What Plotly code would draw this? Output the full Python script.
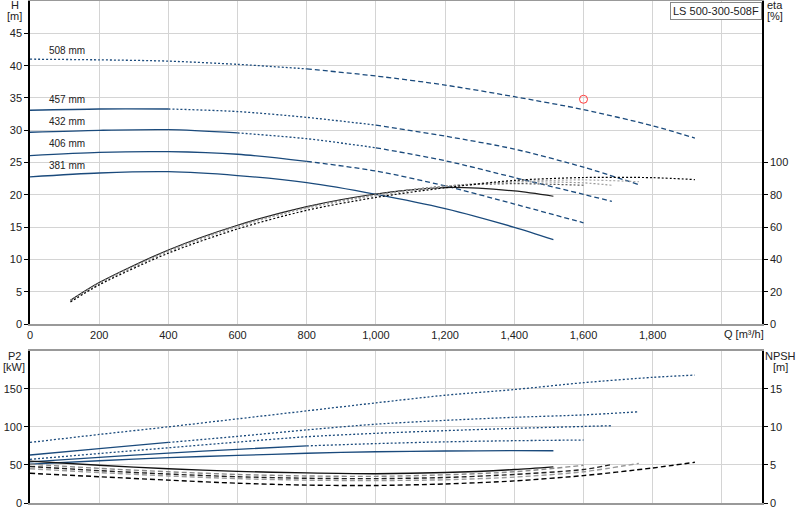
import plotly.graph_objects as go

# --- Data ---
diameters = ["381 mm", "406 mm", "432 mm", "457 mm", "508 mm"]

# Head curves H [m] vs Q [m3/h]
q_head = {
    "381 mm": [0, 200, 400, 600, 800, 1000, 1200, 1400, 1513],
    "406 mm": [0, 200, 400, 600, 800, 1000, 1200, 1400, 1600],
    "432 mm": [0, 200, 400, 600, 800, 1000, 1200, 1400, 1600, 1682],
    "457 mm": [0, 200, 400, 600, 800, 1000, 1200, 1400, 1600, 1760],
    "508 mm": [0, 200, 400, 600, 800, 1000, 1200, 1400, 1600, 1800, 1922],
}
h_head = {
    "381 mm": [22.8, 23.4, 23.6, 23.0, 21.9, 20.1, 17.9, 15.0, 13.1],
    "406 mm": [26.1, 26.6, 26.7, 26.3, 25.2, 23.7, 21.4, 18.6, 15.7],
    "432 mm": [29.7, 30.0, 30.1, 29.6, 28.7, 27.3, 25.3, 22.7, 20.1, 19.0],
    "457 mm": [33.1, 33.3, 33.3, 32.9, 32.0, 30.8, 29.1, 27.1, 24.3, 21.6],
    "508 mm": [41.0, 40.9, 40.7, 40.2, 39.5, 38.4, 37.0, 35.2, 33.2, 30.7, 28.8],
}

# Efficiency eta [%]
q_eta = {
    "381 mm": [117, 200, 400, 600, 800, 1000, 1200, 1400, 1513],
    "406 mm": [117, 200, 400, 600, 800, 1000, 1200, 1400, 1600],
    "432 mm": [117, 200, 400, 600, 800, 1000, 1200, 1400, 1600, 1682],
    "457 mm": [117, 200, 400, 600, 800, 1000, 1200, 1400, 1600, 1760],
    "508 mm": [117, 200, 400, 600, 800, 1000, 1200, 1400, 1600, 1800, 1922],
}
eta = {
    "381 mm": [14.8, 25.8, 46.0, 61.3, 72.8, 80.6, 84.6, 82.5, 79.2],
    "406 mm": [14.6, 25.5, 45.6, 61.0, 72.5, 80.3, 85.5, 87.0, 86.0],
    "432 mm": [14.4, 25.3, 45.4, 60.7, 72.2, 80.0, 85.5, 88.0, 87.5, 86.0],
    "457 mm": [14.2, 25.0, 45.0, 60.3, 71.8, 79.6, 85.2, 88.3, 89.3, 88.2],
    "508 mm": [13.8, 24.4, 44.0, 59.0, 70.5, 78.5, 84.5, 89.0, 90.8, 90.7, 89.5],
}

# Shaft power P2 [kW]
p2 = {
    "381 mm": [51.0, 55.5, 59.5, 62.5, 65.3, 67.3, 68.3, 68.7, 68.6],
    "406 mm": [54.0, 60.0, 65.5, 70.5, 75.0, 78.0, 80.3, 81.8, 82.7],
    "432 mm": [57.3, 65.0, 72.5, 80.0, 87.0, 91.5, 95.0, 98.0, 100.5, 101.5],
    "457 mm": [63.0, 71.5, 79.5, 87.5, 96.0, 103.5, 108.5, 112.5, 115.7, 119.8],
    "508 mm": [79.5, 90.0, 100.0, 110.5, 121.0, 131.5, 141.5, 149.0, 158.0, 165.0, 168.0],
}

# NPSH [m]
npsh = {
    "381 mm": [5.5, 4.95, 4.5, 4.15, 3.95, 3.85, 4.0, 4.4, 4.75],
    "406 mm": [5.1, 4.55, 4.1, 3.75, 3.55, 3.5, 3.7, 4.1, 4.95],
    "432 mm": [4.8, 4.25, 3.8, 3.45, 3.25, 3.2, 3.35, 3.75, 4.4, 5.05],
    "457 mm": [4.5, 4.0, 3.55, 3.2, 3.0, 2.95, 3.05, 3.4, 4.1, 5.2],
    "508 mm": [3.9, 3.45, 3.0, 2.6, 2.35, 2.3, 2.5, 2.9, 3.6, 4.6, 5.35],
}

duty_q = [1600]
duty_h = [34.8]
pump_name = "LS 500-300-508F"

# --- Styling ---
BLUE = "#1a4a7c"
FONT = "Liberation Sans"
DOT = "2px,2px"
DASH = "5px,3px"

# (end Q, dash) segments for the head curves
head_style = {
    "381 mm": [(9999, "solid")],
    "406 mm": [(800, "solid"), (9999, DASH)],
    "432 mm": [(600, "solid"), (1000, DOT), (9999, DASH)],
    "457 mm": [(400, "solid"), (1000, DOT), (9999, DASH)],
    "508 mm": [(800, DOT), (9999, DASH)],
}
p2_style = {
    "381 mm": [(9999, "solid")],
    "406 mm": [(800, "solid"), (9999, DOT)],
    "432 mm": [(9999, DOT)],
    "457 mm": [(400, "solid"), (9999, DOT)],
    "508 mm": [(9999, DOT)],
}
eta_style = {
    "381 mm": ("#1e1e1e", "solid"),
    "406 mm": ("#555555", DOT),
    "432 mm": ("#9a9a9a", DOT),
    "457 mm": ("#a8a8a8", DOT),
    "508 mm": ("#000000", DOT),
}
npsh_style = {
    "381 mm": ("#111111", "solid"),
    "406 mm": ("#8a8a8a", DASH),
    "432 mm": ("#222222", DASH),
    "457 mm": ("#9a9a9a", DASH),
    "508 mm": ("#000000", DASH),
}


def add_segmented(fig, qs, vs, segments, color, xa, ya):
    start = -1
    for end, dash in segments:
        sx = [q for q in qs if start <= q <= end]
        sy = [v for q, v in zip(qs, vs) if start <= q <= end]
        if len(sx) > 1:
            fig.add_trace(go.Scatter(x=sx, y=sy, mode="lines", xaxis=xa, yaxis=ya,
                                     line=dict(color=color, width=1.3, dash=dash,
                                               shape="spline", smoothing=0.8),
                                     hoverinfo="skip"))
        start = end


fig = go.Figure()

for d in diameters:
    add_segmented(fig, q_head[d], h_head[d], head_style[d], BLUE, "x", "y")
    c, dash = eta_style[d]
    fig.add_trace(go.Scatter(x=q_eta[d], y=eta[d], mode="lines", xaxis="x", yaxis="y2",
                             line=dict(color=c, width=1.2, dash=dash,
                                       shape="spline", smoothing=0.8)))
    add_segmented(fig, q_head[d], p2[d], p2_style[d], BLUE, "x2", "y3")
    c, dash = npsh_style[d]
    fig.add_trace(go.Scatter(x=q_head[d], y=npsh[d], mode="lines", xaxis="x2", yaxis="y4",
                             line=dict(color=c, width=1.4, dash=dash,
                                       shape="spline", smoothing=0.8)))

fig.add_trace(go.Scatter(x=duty_q, y=duty_h, mode="markers", xaxis="x", yaxis="y",
                         marker=dict(symbol="circle-open", color="#ff3b3b", size=8,
                                     line=dict(width=1))))

# curve labels
label_y = {"381 mm": 24.6, "406 mm": 28.0, "432 mm": 31.4, "457 mm": 34.8, "508 mm": 42.3}
annotations = [dict(x=50, y=label_y[d], xref="x", yref="y", text=d, showarrow=False,
                    xanchor="left", yanchor="middle", font=dict(size=10, color="#222"))
               for d in diameters]


def axis_label(text, x, y):
    return dict(x=x, y=y, xref="paper", yref="paper", text=text, showarrow=False,
                xanchor="center", yanchor="middle", font=dict(size=11))


annotations += [
    axis_label("H", -0.0205, 0.992),
    axis_label("[m]", -0.0205, 0.970),
    axis_label("eta", 1.0178, 0.992),
    axis_label("[%]", 1.0178, 0.970),
    axis_label("P2", -0.0215, 0.2934),
    axis_label("[kW]", -0.0215, 0.2715),
    axis_label("NPSH", 1.0246, 0.2934),
    axis_label("[m]", 1.0246, 0.2715),
    dict(x=2000, y=0.3367, xref="x", yref="paper", text="Q [m³/h]", showarrow=False,
         xanchor="left", yanchor="middle", font=dict(size=11)),
    dict(x=0.9995, y=0.999, xref="paper", yref="paper", text=pump_name, showarrow=False,
         xanchor="right", yanchor="top", font=dict(size=11), bgcolor="white",
         bordercolor="#888", borderwidth=1, borderpad=2),
]

q_ticks = list(range(0, 2001, 200))
grid = "#d4d4d4"
xcommon = dict(range=[0, 2116], tickvals=q_ticks, showgrid=True, gridcolor=grid,
               showline=True, linecolor="#999999", linewidth=1.5, mirror=True,
               zeroline=False, ticks="")

fig.update_layout(
    width=800, height=520,
    margin=dict(l=29.5, r=38, t=1, b=17, autoexpand=False),
    paper_bgcolor="white", plot_bgcolor="white",
    showlegend=False,
    font=dict(family=FONT, size=11, color="#222"),
    annotations=annotations,
    xaxis=dict(xcommon, anchor="y", separatethousands=True,
               ticktext=[f"{q:,}" if q < 2000 else "" for q in q_ticks]),
    yaxis=dict(domain=[0.356, 1], range=[0, 50], tickvals=list(range(0, 46, 5)),
               showgrid=True, gridcolor=grid, zeroline=False, showline=True,
               linecolor="black", linewidth=1.5, ticks="outside", ticklen=4,
               tickcolor="black"),
    yaxis2=dict(overlaying="y", anchor="x", side="right", range=[0, 200],
                tickvals=list(range(0, 101, 20)), showgrid=False, zeroline=False,
                showline=True, linecolor="black", linewidth=1.5, ticks="outside",
                ticklen=4, tickcolor="black"),
    xaxis2=dict(xcommon, anchor="y3", showticklabels=False),
    yaxis3=dict(domain=[0, 0.3034], range=[0, 200], tickvals=[0, 50, 100, 150],
                showgrid=True, gridcolor=grid, zeroline=False, showline=True,
                linecolor="black", linewidth=1.5, ticks="outside", ticklen=4,
                tickcolor="black"),
    yaxis4=dict(overlaying="y3", anchor="x2", side="right", range=[0, 20],
                tickvals=[0, 5, 10, 15], showgrid=False, zeroline=False,
                showline=True, linecolor="black", linewidth=1.5, ticks="outside",
                ticklen=4, tickcolor="black"),
)

# the browser adds an 8px body margin; remove it so the figure sits at the page corner
fig.write_html("out.html", config={"displayModeBar": False},
               post_script="document.body.style.margin = '0';")
